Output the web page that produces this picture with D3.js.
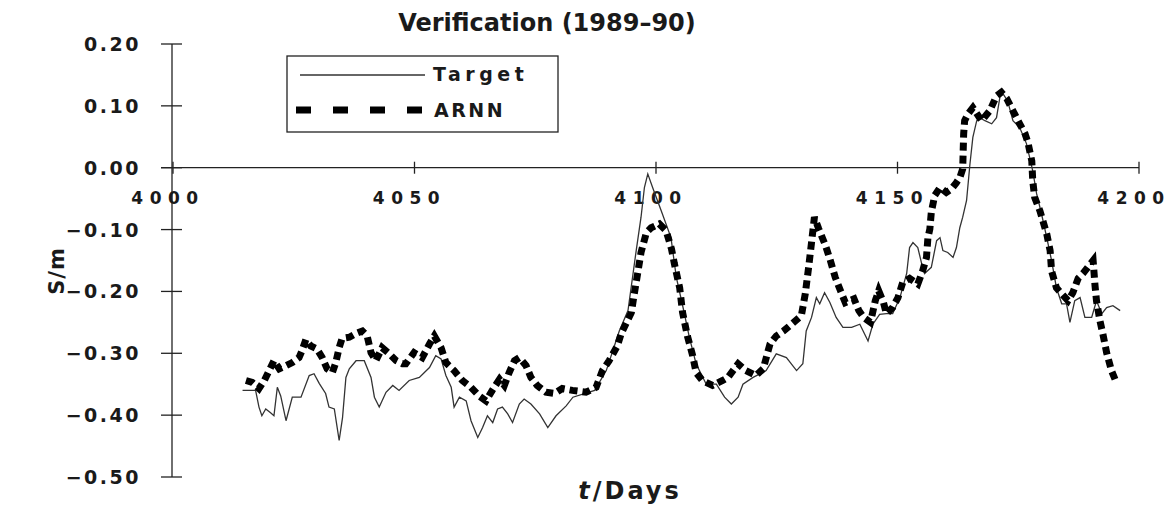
<!DOCTYPE html>
<html lang="en">
<head>
  <meta charset="UTF-8" />
  <title>Verification (1989–90)</title>
  <style>
    body { margin: 0; background: #fff; }
    svg { display: block; }
    text { font-family: "DejaVu Sans", Verdana, sans-serif; font-weight: bold; fill: #1a1a1a; }
  </style>
</head>
<body>
  <svg id="chart" width="1172" height="507"></svg>

  <script src="https://d3js.org/d3.v7.min.js"></script>
  <script>
    // tick values
    const xTicks = [4000, 4050, 4100, 4150, 4200];
    const yTicks = [0.2, 0.1, 0, -0.1, -0.2, -0.3, -0.4, -0.5];

    // Target series
    const targetDay = [4014.4, 4017.1, 4017.8, 4018.4, 4019.2, 4020.2, 4020.9, 4021.6, 4022.3, 4023.4,
      4024.7, 4026.5, 4028.2, 4029.2, 4030.3, 4031.6, 4032.3, 4033.4, 4034.4, 4035.1,
      4035.8, 4036.5, 4037.9, 4039.6, 4041.0, 4041.7, 4042.7, 4044.1, 4045.5, 4046.8,
      4048.9, 4051.0, 4053.1, 4054.4, 4055.5, 4056.5, 4057.6, 4058.2, 4059.3, 4060.7,
      4061.7, 4063.1, 4064.1, 4065.1, 4066.2, 4067.2, 4068.2, 4069.3, 4070.3, 4071.7,
      4072.7, 4074.1, 4075.9, 4077.6, 4079.3, 4081.4, 4082.8, 4087.3, 4089.7, 4092.4,
      4094.2, 4095.9, 4096.9, 4097.6, 4098.3, 4099.3, 4101.1, 4103.1, 4104.2, 4105.6,
      4106.9, 4108.3, 4110.4, 4112.5, 4114.2, 4115.6, 4117.0, 4118.0, 4120.1, 4122.8,
      4124.9, 4127.0, 4129.1, 4130.4, 4131.1, 4132.2, 4133.2, 4133.9, 4134.9, 4136.0,
      4137.3, 4138.7, 4140.5, 4142.2, 4143.9, 4144.9, 4146.3, 4147.7, 4149.0, 4150.5,
      4151.9, 4152.5, 4153.2, 4154.2, 4155.0, 4155.6, 4157.0, 4158.1, 4158.8, 4159.4,
      4160.4, 4161.5, 4162.2, 4162.9, 4163.5, 4164.3, 4165.0, 4165.6, 4166.4, 4167.0,
      4168.1, 4169.5, 4170.5, 4171.2, 4171.8, 4172.8, 4173.9, 4175.3, 4176.7, 4178.0,
      4178.8, 4179.8, 4180.9, 4181.9, 4182.9, 4184.0, 4185.0, 4185.7, 4186.7, 4187.8,
      4188.8, 4190.2, 4191.2, 4192.3, 4193.3, 4194.6, 4196.1];
    const targetS = [-0.360, -0.360, -0.387, -0.401, -0.390, -0.396, -0.401, -0.355, -0.369, -0.409,
      -0.371, -0.371, -0.336, -0.333, -0.349, -0.365, -0.387, -0.390, -0.441, -0.404,
      -0.339, -0.325, -0.312, -0.312, -0.339, -0.371, -0.387, -0.363, -0.352, -0.360,
      -0.344, -0.339, -0.323, -0.304, -0.309, -0.336, -0.355, -0.387, -0.371, -0.377,
      -0.409, -0.436, -0.420, -0.401, -0.412, -0.390, -0.387, -0.398, -0.412, -0.382,
      -0.374, -0.382, -0.398, -0.420, -0.401, -0.385, -0.371, -0.360, -0.328, -0.264,
      -0.231, -0.134, -0.080, -0.032, -0.010, -0.032, -0.070, -0.113, -0.177, -0.226,
      -0.274, -0.317, -0.350, -0.350, -0.371, -0.382, -0.371, -0.350, -0.339, -0.328,
      -0.301, -0.307, -0.328, -0.317, -0.264, -0.242, -0.210, -0.220, -0.202, -0.218,
      -0.242, -0.258, -0.258, -0.253, -0.280, -0.253, -0.237, -0.236, -0.236, -0.210,
      -0.171, -0.129, -0.121, -0.129, -0.155, -0.171, -0.161, -0.118, -0.113, -0.134,
      -0.137, -0.145, -0.129, -0.097, -0.080, -0.053, 0.006, 0.049, 0.076, 0.081,
      0.076, 0.071, 0.081, 0.114, 0.120, 0.108, 0.076, 0.065, 0.039, -0.005,
      -0.042, -0.074, -0.113, -0.150, -0.194, -0.220, -0.220, -0.250, -0.215, -0.210,
      -0.242, -0.242, -0.215, -0.236, -0.226, -0.223, -0.231];

    // ARNN series
    const arnnDay = [4015.1, 4016.4, 4017.8, 4018.9, 4019.9, 4020.9, 4022.0, 4023.4, 4024.7, 4026.1,
      4026.7, 4027.5, 4028.5, 4029.8, 4030.9, 4031.9, 4033.0, 4033.7, 4034.4, 4035.0,
      4036.5, 4037.9, 4039.2, 4040.2, 4041.0, 4042.0, 4043.3, 4044.8, 4046.2, 4047.5,
      4048.2, 4049.9, 4051.6, 4053.1, 4054.1, 4055.5, 4056.5, 4058.2, 4059.9, 4061.7,
      4063.4, 4064.8, 4066.1, 4067.6, 4068.6, 4069.6, 4070.7, 4071.7, 4073.1, 4074.1,
      4075.4, 4077.2, 4079.0, 4080.6, 4082.7, 4085.5, 4087.6, 4088.9, 4090.3, 4092.0,
      4092.8, 4094.1, 4094.9, 4095.5, 4096.2, 4096.9, 4098.0, 4099.0, 4100.7, 4102.1,
      4103.2, 4103.8, 4104.9, 4105.5, 4106.5, 4107.6, 4108.3, 4109.6, 4111.7, 4113.8,
      4114.9, 4117.0, 4118.6, 4120.7, 4122.2, 4123.6, 4124.9, 4126.4, 4128.5, 4130.1,
      4130.9, 4131.6, 4132.2, 4132.8, 4133.7, 4135.1, 4136.1, 4137.1, 4138.2, 4139.2,
      4141.0, 4142.0, 4143.0, 4144.4, 4145.4, 4146.1, 4147.1, 4147.7, 4149.0, 4150.1,
      4151.1, 4152.5, 4154.2, 4155.2, 4156.0, 4156.3, 4156.7, 4157.0, 4157.7, 4158.8,
      4160.1, 4161.2, 4162.2, 4162.9, 4163.5, 4163.6, 4163.7, 4163.9, 4164.6, 4165.6,
      4167.4, 4169.1, 4170.5, 4171.5, 4172.6, 4173.9, 4175.3, 4176.4, 4177.0, 4177.8,
      4178.0, 4178.4, 4179.5, 4180.9, 4181.6, 4181.9, 4182.9, 4184.0, 4185.3, 4186.3,
      4187.4, 4188.4, 4189.4, 4190.5, 4190.9, 4191.2, 4191.9, 4192.5, 4193.3, 4194.3,
      4195.4];
    const arnnS = [-0.344, -0.347, -0.357, -0.344, -0.328, -0.312, -0.325, -0.320, -0.315, -0.307,
      -0.296, -0.278, -0.288, -0.293, -0.307, -0.325, -0.331, -0.315, -0.291, -0.276,
      -0.274, -0.268, -0.264, -0.272, -0.299, -0.312, -0.291, -0.301, -0.312, -0.317,
      -0.317, -0.299, -0.307, -0.285, -0.272, -0.291, -0.315, -0.328, -0.344, -0.355,
      -0.369, -0.377, -0.360, -0.342, -0.352, -0.331, -0.312, -0.307, -0.320, -0.339,
      -0.352, -0.363, -0.365, -0.357, -0.360, -0.363, -0.355, -0.328, -0.312, -0.288,
      -0.268, -0.247, -0.234, -0.204, -0.171, -0.137, -0.105, -0.097, -0.091, -0.102,
      -0.131, -0.155, -0.194, -0.234, -0.272, -0.304, -0.331, -0.344, -0.352, -0.344,
      -0.339, -0.317, -0.328, -0.336, -0.325, -0.285, -0.272, -0.264, -0.250, -0.239,
      -0.204, -0.161, -0.121, -0.080, -0.099, -0.126, -0.150, -0.177, -0.199, -0.218,
      -0.212, -0.231, -0.242, -0.250, -0.215, -0.199, -0.218, -0.236, -0.226, -0.210,
      -0.185, -0.179, -0.188, -0.167, -0.145, -0.113, -0.099, -0.072, -0.045, -0.032,
      -0.040, -0.034, -0.024, -0.016, -0.002, 0.027, 0.055, 0.076, 0.087, 0.097,
      0.076, 0.092, 0.116, 0.122, 0.112, 0.092, 0.071, 0.055, 0.041, 0.011,
      -0.021, -0.048, -0.070, -0.107, -0.134, -0.167, -0.194, -0.204, -0.215, -0.202,
      -0.179, -0.171, -0.161, -0.150, -0.191, -0.215, -0.247, -0.268, -0.299, -0.328,
      -0.349];

    const svg = d3.select("#chart");

    const x = d3.scaleLinear().domain([4000, 4200]).range([173, 1139]);
    const y = d3.scaleLinear().domain([0.2, -0.5]).range([44, 477]);

    // title
    svg.append("text")
      .attr("x", 547).attr("y", 31)
      .attr("text-anchor", "middle")
      .attr("font-size", 24)
      .attr("fill", "#222")
      .text("Verification (1989–90)");

    // y axis with crossing ticks
    const axisColor = "#222";
    svg.append("line")
      .attr("x1", x(4000) - 1).attr("x2", x(4000) - 1)
      .attr("y1", y(0.2)).attr("y2", y(-0.5))
      .attr("stroke", axisColor).attr("stroke-width", 1.3);

    svg.selectAll(".ytick")
      .data(yTicks)
      .join("line")
      .attr("x1", x(4000) - 12).attr("x2", x(4000) + 9)
      .attr("y1", d => y(d)).attr("y2", d => y(d))
      .attr("stroke", axisColor).attr("stroke-width", 1.3);

    svg.selectAll(".ylab")
      .data(yTicks)
      .join("text")
      .attr("x", 141)
      .attr("y", d => y(d) + 7)
      .attr("text-anchor", "end")
      .attr("font-size", 19)
      .attr("letter-spacing", 2.5)
      .text(d => d3.format(".2f")(d));

    // x axis on the zero line
    svg.append("line")
      .attr("x1", x(4000) - 12).attr("x2", x(4200))
      .attr("y1", y(0)).attr("y2", y(0))
      .attr("stroke", axisColor).attr("stroke-width", 1.3);

    svg.selectAll(".xtick")
      .data(xTicks)
      .join("line")
      .attr("x1", d => x(d)).attr("x2", d => x(d))
      .attr("y1", y(0) - 6).attr("y2", y(0) + 6)
      .attr("stroke", axisColor).attr("stroke-width", 1.3);

    svg.selectAll(".xlab")
      .data(xTicks)
      .join("text")
      .attr("x", d => x(d) - 5)
      .attr("y", 204)
      .attr("text-anchor", "middle")
      .attr("font-size", 17)
      .attr("letter-spacing", 6.5)
      .text(d => d);

    // axis titles
    svg.append("text")
      .attr("transform", "translate(64,271) rotate(-90)")
      .attr("text-anchor", "middle")
      .attr("font-size", 21)
      .attr("letter-spacing", 1)
      .text("S/m");

    const xt = svg.append("text")
      .attr("x", 630).attr("y", 499)
      .attr("text-anchor", "middle")
      .attr("font-size", 24)
      .attr("letter-spacing", 3);
    xt.append("tspan").attr("font-style", "italic").text("t");
    xt.append("tspan").text("/Days");

    const line = d3.line().x(d => x(d[0])).y(d => y(d[1]));

    svg.append("path")
      .datum(d3.zip(targetDay, targetS))
      .attr("fill", "none")
      .attr("stroke", "#333")
      .attr("stroke-width", 1.3)
      .attr("d", line);

    svg.append("path")
      .datum(d3.zip(arnnDay, arnnS))
      .attr("fill", "none")
      .attr("stroke", "#000")
      .attr("stroke-width", 7)
      .attr("stroke-dasharray", "8,5")
      .attr("d", line);

    // legend
    svg.append("rect")
      .attr("x", 287).attr("y", 56)
      .attr("width", 271).attr("height", 76)
      .attr("fill", "#fff")
      .attr("stroke", "#222").attr("stroke-width", 1.3);

    svg.append("line")
      .attr("x1", 300).attr("x2", 425)
      .attr("y1", 75).attr("y2", 75)
      .attr("stroke", "#333").attr("stroke-width", 1.3);
    svg.append("text")
      .attr("x", 433).attr("y", 81)
      .attr("font-size", 19)
      .attr("letter-spacing", 4.5)
      .text("Target");

    svg.append("line")
      .attr("x1", 296).attr("x2", 425)
      .attr("y1", 110).attr("y2", 110)
      .attr("stroke", "#000").attr("stroke-width", 7)
      .attr("stroke-dasharray", "15,22");
    svg.append("text")
      .attr("x", 434).attr("y", 117)
      .attr("font-size", 19)
      .attr("letter-spacing", 2.5)
      .text("ARNN");
  </script>
</body>
</html>
